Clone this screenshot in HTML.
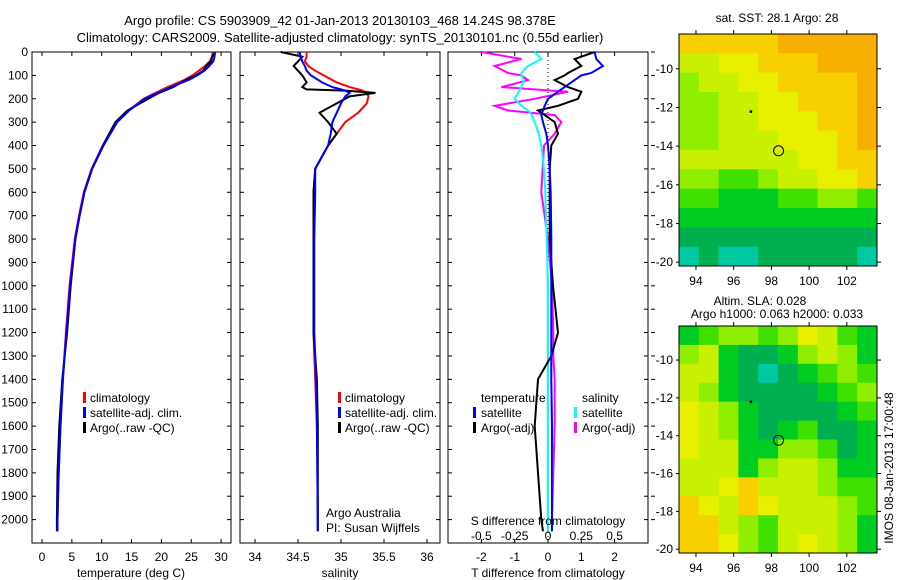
<!DOCTYPE html>
<html><head><meta charset="utf-8"><style>
body{margin:0;background:#fff;}
svg{display:block;font-family:"Liberation Sans",sans-serif;}
text{font-size:12px;fill:#000;}
</style></head><body>
<svg id="c" width="900" height="580"></svg>
<script>
const depths=[0,20,40,60,80,100,120,150,175,200,250,300,400,500,600,700,800,1000,1200,1400,1600,1800,2000,2050];
const tClim=[28.6,28.5,28.1,27.3,26.3,25.2,23.8,21,19,17,14.5,12.5,10.2,8.3,7,6.2,5.5,4.6,4,3.5,3.1,2.8,2.6,2.6];
const tSat=[29,28.9,28.7,28,27.2,26,24.5,21.6,19.4,17.2,14.6,12.6,10.3,8.4,7.1,6.3,5.6,4.7,4.1,3.5,3.1,2.8,2.6,2.6];
const tArgo=[29,28.5,28.3,27.5,27,25.8,24,22,19.6,17.8,14.3,12.3,10.2,8.4,7.1,6.3,5.6,4.8,4.2,3.4,2.9,2.6,2.5,2.5];
const sDepths=[0,20,40,60,80,100,130,150,160,165,175,190,220,260,300,350,400,500,600,800,1000,1200,1300,1400,1600,2000,2050];
const sClim=[34.6,34.6,34.58,34.62,34.7,34.8,34.95,35.1,35.2,35.25,35.3,35.32,35.3,35.2,35.05,34.95,34.85,34.7,34.68,34.68,34.68,34.68,34.69,34.7,34.72,34.73,34.73];
const sSat=[34.52,34.53,34.55,34.58,34.6,34.65,34.78,34.9,35,35.05,35.1,35.05,35,34.95,34.9,34.88,34.85,34.7,34.7,34.69,34.69,34.69,34.7,34.71,34.72,34.73,34.73];
const sArgo=[34.3,34.55,34.5,34.45,34.5,34.55,34.6,34.55,34.6,35.05,35.4,35.1,34.95,34.75,34.85,34.95,34.85,34.7,34.68,34.68,34.68,34.68,34.7,34.72,34.73,34.73,34.73];
const dDepths=[0,30,60,90,100,120,150,170,200,230,250,270,300,350,400,500,600,800,1000,1200,1300,1400,1600,1800,2000,2050];
const dTSat=[1.4,1.45,1.65,1.3,1.0,0.8,0.5,0.3,0,-0.1,-0.15,-0.2,-0.15,-0.05,0,0.05,0.08,0.1,0.1,0.1,0.1,0.1,0.12,0.12,0.12,0.12];
const dTArgo=[1.4,0.8,1.0,0.6,0.5,0.2,0.6,1.0,0.9,0.3,-0.3,-0.1,0.2,0.3,0.1,0.05,0.05,0.05,0.15,0.3,0.1,-0.3,-0.4,-0.3,-0.2,-0.15];
const dSSat=[-0.1,-0.05,-0.15,-0.2,-0.2,-0.18,-0.2,-0.22,-0.25,-0.2,-0.15,-0.12,-0.1,-0.07,-0.05,-0.03,-0.02,-0.01,0,0,0,0,0,0,0,0];
const dSArgo=[-0.5,-0.2,-0.4,-0.3,-0.2,-0.15,-0.35,0.15,-0.1,-0.4,-0.3,0.05,0.1,0.05,-0.03,-0.04,-0.05,0,0.03,0.04,0.04,0.05,0.05,0.04,0.03,0.03];
const sstGrid=["7777788888","5566777888","4556677778","4455667778","4455666778","4455566678","5555556677","4433455667","3322233443","2222222222","1111111111","0100111110"];
const slaGrid=["2344346532","4521124542","5521012343","5421111234","6542111123","6542123112","6552244312","5552455422","5567555433","7657655543","7754355542","7764356542"];
const depthTicks=[0,100,200,300,400,500,600,700,800,900,1000,1100,1200,1300,1400,1500,1600,1700,1800,1900,2000];
const tTicks=[0,5,10,15,20,25,30];
const sTicks=[34,34.5,35,35.5,36];
const dtTicks=[-2,-1,0,1,2];
const dsTicks=["-0.5","-0.25","0","0.25","0.5"];
const lonTicks=[94,96,98,100,102];
const latTicks=[10,12,14,16,18,20];

const svg=document.getElementById('c');const NS='http://www.w3.org/2000/svg';
function el(t,a,txt,p){const e=document.createElementNS(NS,t);for(const k in a)e.setAttribute(k,a[k]);if(txt!=null)e.textContent=txt;(p||svg).appendChild(e);return e;}
const yD=d=>52+d*(491/2100);
function panel(name,x0,x1,sx,ticks,labelFn){
  const r=el('rect',{x:x0,y:52,width:x1-x0,height:491,fill:'none',stroke:'#000'});
  
  depthTicks.forEach(d=>{el('line',{x1:x0,x2:x0+4,y1:yD(d),y2:yD(d),stroke:'#000'});el('line',{x1:x1,x2:x1-4,y1:yD(d),y2:yD(d),stroke:'#000'});});
  ticks.forEach(v=>{const x=sx(v);el('line',{x1:x,x2:x,y1:52,y2:56,stroke:'#000'});el('line',{x1:x,x2:x,y1:543,y2:539,stroke:'#000'});
    const t=el('text',{x:x,y:561,'text-anchor':'middle'},labelFn?labelFn(v):String(v));});
}
function line(name,xs,ds,sx,col){const pts=xs.map((v,i)=>sx(v).toFixed(1)+','+yD(ds[i]).toFixed(1)).join(' ');
  const p=el('polyline',{points:pts,fill:'none',stroke:col,'stroke-width':2});}
function txt(name,x,y,s,anchor){const t=el('text',{x:x,y:y,'text-anchor':anchor||'start'},s);return t;}
function mark(x,y,col){el('rect',{x:x,y:y-10,width:3,height:11,fill:col});}

txt('title-line-1',340,25,'Argo profile: CS 5903909_42 01-Jan-2013 20130103_468 14.24S 98.378E','middle').style.fontSize='13px';
txt('title-line-2',340,42,'Climatology: CARS2009. Satellite-adjusted climatology: synTS_20130101.nc (0.55d earlier)','middle').style.fontSize='13px';

depthTicks.forEach(d=>{const t=txt('depth-tick-label',28,yD(d)+4,String(d),'end');});
const sT=v=>42+v*5.97;
panel('temperature-panel',32,231,sT,tTicks);
line('temperature-climatology',tClim,depths,sT,'#f00');
line('temperature-argo',tArgo,depths,sT,'#000');
line('temperature-satellite',tSat,depths,sT,'#00f');
txt('temperature-axis-title',131,577,'temperature (deg C)','middle');
[['climatology','#f00'],['satellite-adj. clim.','#00f'],['Argo(..raw -QC)','#000']].forEach((l,i)=>{mark(83,402+i*15,l[1]);txt('temp-legend-entry',90,402+i*15,l[0]);});
const sS=v=>298+(v-34.5)*86;
panel('salinity-panel',240,440,sS,sTicks);
line('salinity-climatology',sClim,sDepths,sS,'#f00');
line('salinity-argo',sArgo,sDepths,sS,'#000');
line('salinity-satellite',sSat,sDepths,sS,'#00f');
txt('salinity-axis-title',340,577,'salinity','middle');
[['climatology','#f00'],['satellite-adj. clim.','#00f'],['Argo(..raw -QC)','#000']].forEach((l,i)=>{mark(338,402+i*15,l[1]);txt('sal-legend-entry',345,402+i*15,l[0]);});
txt('argo-australia-label',326,517,'Argo Australia');
txt('pi-label',326,532,'PI: Susan Wijffels');
const sDT=v=>548+v*33.3, sDS=v=>548+v*133.2;
panel('difference-panel',448,648,sDT,dtTicks);
el('line',{x1:548,x2:548,y1:52,y2:543,stroke:'#000','stroke-dasharray':'1,3'});
line('salinity-diff-argo',dSArgo,dDepths,sDS,'#f0f');
line('salinity-diff-satellite',dSSat,dDepths,sDS,'#0ff');
line('temperature-diff-argo',dTArgo,dDepths,sDT,'#000');
line('temperature-diff-satellite',dTSat,dDepths,sDT,'#00f');
txt('temp-legend-header',481,402,'temperature');
txt('sal-legend-header',582,402,'salinity');
mark(473,417,'#00f');txt('temp-diff-legend-satellite',481,417,'satellite');
mark(473,432,'#000');txt('temp-diff-legend-argo',481,432,'Argo(-adj)');
mark(574,417,'#0ff');txt('sal-diff-legend-satellite',582,417,'satellite');
mark(574,432,'#f0f');txt('sal-diff-legend-argo',582,432,'Argo(-adj)');
txt('s-diff-axis-title',548,525,'S difference from climatology','middle');
dsTicks.forEach(v=>txt('s-diff-tick-label',sDS(parseFloat(v)),540,v,'middle'));
txt('t-diff-axis-title',548,577,'T difference from climatology','middle');
depthTicks.forEach(d=>el('line',{x1:651,x2:655,y1:yD(d),y2:yD(d),stroke:'#000'}));
const cmap=['#00c8a0','#00b050','#00cc22','#40e000','#90ee00','#c8f000','#e8f000','#f8d000','#f8b000','#f09000'];
function map(name,grid,top,bot){
  const x0=679,x1=877,lon0=93.1,lon1=103.6,lat0=8.2,lat1=20.2;
  const sx=v=>x0+(v-lon0)*(x1-x0)/(lon1-lon0), sy=v=>top+(v-lat0)*(bot-top)/(lat1-lat0);
  const rows=grid.length,cols=grid[0].length,cw=(x1-x0)/cols,ch=(bot-top)/rows;
  grid.forEach((r,i)=>{for(let j=0;j<cols;j++){const c=el('rect',{x:x0+j*cw,y:top+i*ch,width:cw+0.5,height:ch+0.5,fill:cmap[+r[j]]});
    }});
  const f=el('rect',{x:x0,y:top,width:x1-x0,height:bot-top,fill:'none',stroke:'#000'});
  
  lonTicks.forEach(v=>{el('line',{x1:sx(v),x2:sx(v),y1:top,y2:top-4,stroke:'#000'});el('line',{x1:sx(v),x2:sx(v),y1:bot,y2:bot+4,stroke:'#000'});txt(name+'-lon-label',sx(v),bot+19,String(v),'middle');});
  latTicks.forEach(v=>{el('line',{x1:x1,x2:x1+4,y1:sy(v),y2:sy(v),stroke:'#000'});el('line',{x1:x0,x2:x0-3,y1:sy(v),y2:sy(v),stroke:'#000'});txt(name+'-lat-label',673,sy(v)+4,'-'+v,'end');});
  const c=el('circle',{cx:sx(98.38),cy:sy(14.24),r:5,fill:'none',stroke:'#000'});
  el('rect',{x:sx(96.9)-1,y:sy(12.2)-1,width:2.5,height:2.5,fill:'#000'});
}
map('sst-map',sstGrid,34,266);
map('sla-map',slaGrid,326,553);
txt('sst-map-title',777,22,'sat. SST: 28.1 Argo: 28','middle');
txt('sla-map-title-1',760,305,'Altim. SLA: 0.028','middle');
txt('sla-map-title-2',777,318,'Argo h1000: 0.063 h2000: 0.033','middle');
const v=txt('imos-timestamp',0,0,'IMOS 08-Jan-2013 17:00:48','middle');v.setAttribute('transform','translate(893,468) rotate(-90)');
</script>
</body></html>
